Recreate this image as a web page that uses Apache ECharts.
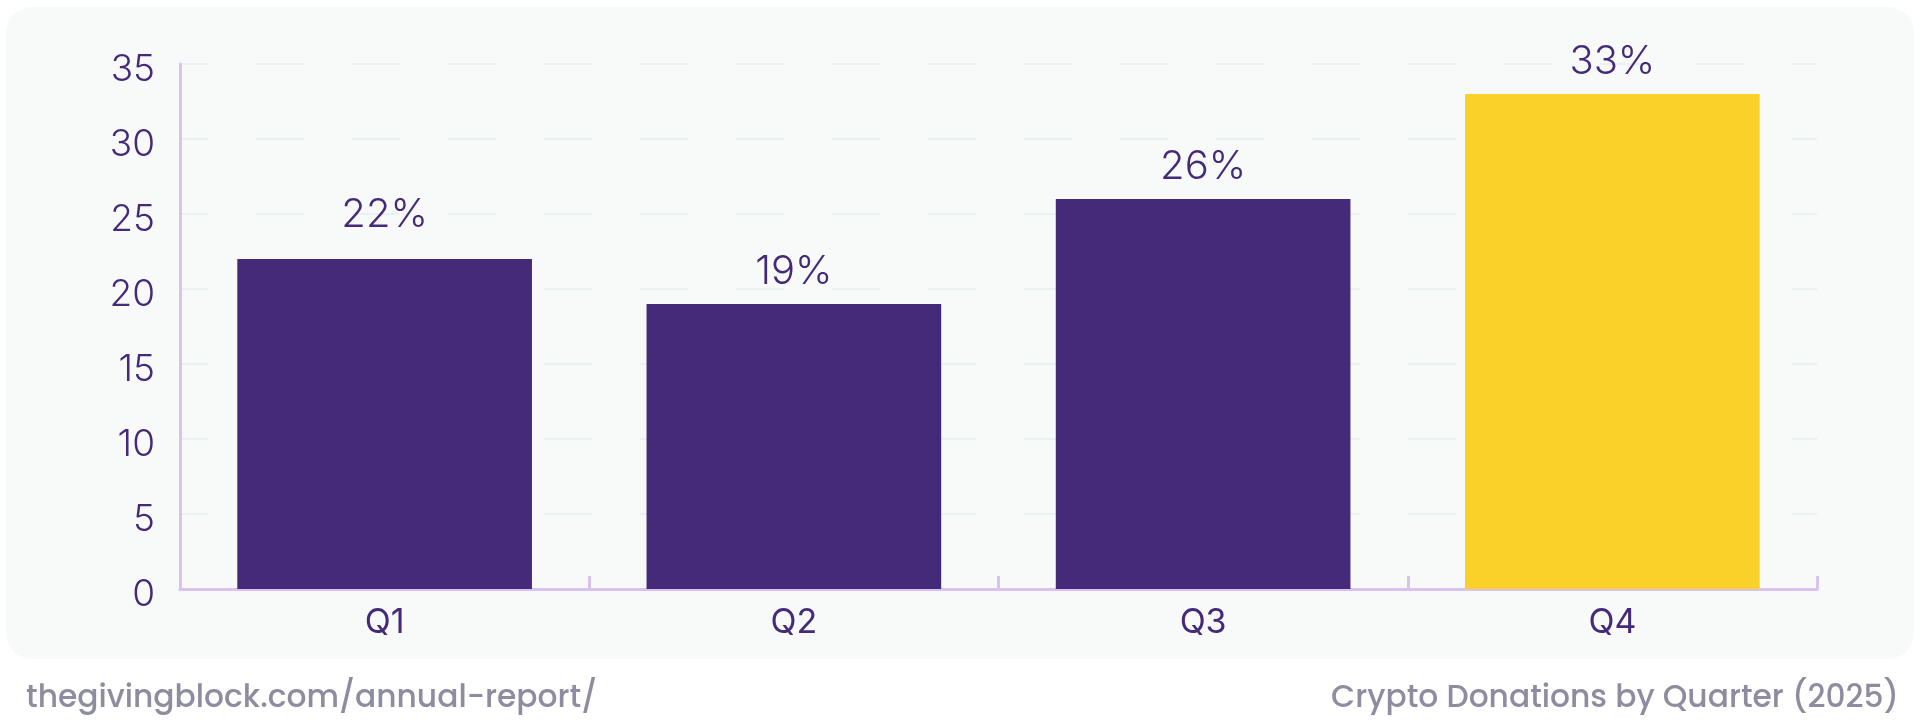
<!DOCTYPE html>
<html><head><meta charset="utf-8">
<style>html,body{margin:0;padding:0;background:#ffffff;}#c{width:1920px;height:727px;}</style>
<script src="https://cdn.jsdelivr.net/npm/echarts@6/dist/echarts.min.js"></script>
</head><body><div id="c"></div>
<script>
const categories = ['Q1', 'Q2', 'Q3', 'Q4'];
const values = [22, 19, 26, 33];
const highlightIndex = 3;
const yTicks = [0, 5, 10, 15, 20, 25, 30, 35];
const sourceText = 'thegivingblock.com/annual-report/';
const titleText = 'Crypto Donations by Quarter (2025)';

const purple = '#442a78';
const yellow = '#f9d128';
const chart = echarts.init(document.getElementById('c'), null, {renderer: 'canvas'});
chart.setOption({
  animation: false,
  backgroundColor: '#ffffff',
  graphic: [{
    type: 'rect', z: -10, silent: true,
    shape: {x: 6, y: 7, width: 1908, height: 652, r: 26},
    style: {fill: '#f8fafa'}
  }],
  title: [
    {text: sourceText, left: 21, top: 679, textStyle: {fontFamily: 'Poppins, Inter, sans-serif', fontSize: 31.3, fontWeight: 500, color: '#8e8d9f'}},
    {text: titleText, right: 16, top: 679, textStyle: {fontFamily: 'Poppins, Inter, sans-serif', fontSize: 31.3, fontWeight: 500, color: '#8e8d9f'}}
  ],
  grid: {left: 180, right: 103, top: 64, bottom: 138, containLabel: false},
  xAxis: {
    type: 'category', data: categories,
    axisLine: {lineStyle: {color: '#d9c1f0', width: 3}},
    axisTick: {show: true, inside: true, length: 13, lineStyle: {color: '#d9c1f0', width: 3}},
    axisLabel: {color: purple, fontFamily: 'Inter, sans-serif', fontSize: 34, fontWeight: 400, margin: 17}
  },
  yAxis: {
    type: 'value', min: 0, max: 35, interval: 5,
    axisLine: {show: true, lineStyle: {color: '#d9c1f0', width: 3}},
    axisTick: {show: false},
    axisLabel: {color: purple, margin: 25,
      formatter: v => yTicks.includes(v) ? '{n|' + v + '}' : '',
      rich: {n: {color: purple, fontFamily: 'Inter, sans-serif', fontSize: 37, fontWeight: 300, padding: [12, 0, 0, 0]}}
    },
    splitLine: {show: true, lineStyle: {color: '#eaf1f3', width: 2, type: [48, 48], dashOffset: 20}}
  },
  series: [{
    type: 'bar', barCategoryGap: '28%',
    data: values.map((v, i) => ({
      value: v,
      itemStyle: {color: i === highlightIndex ? yellow : purple},
      label: i === 0 ? {distance: 24} : undefined
    })),
    label: {show: true, position: 'top', distance: 12, formatter: '{c}%', color: purple,
      fontFamily: 'Inter, sans-serif', fontSize: 40, fontWeight: 300}
  }]
});
</script></body></html>
